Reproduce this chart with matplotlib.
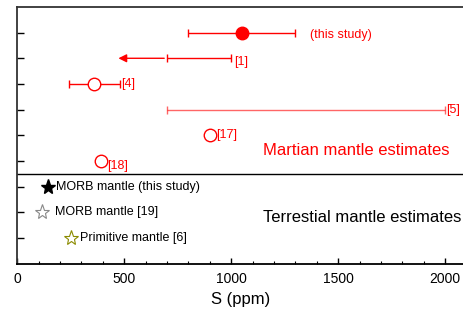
import matplotlib.pyplot as plt
import numpy as np

plt.rcParams["font.family"] = ["Liberation Sans", "DejaVu Sans"]

# Martian mantle estimates (red)
mars_labels = ["(this study)", "[1]", "[4]", "[5]", "[17]", "[18]"]
mars_y = [9, 8, 7, 6, 5, 4]
mars_s = [1050, None, 360, None, 900, 390]
mars_lo = [800, 700, 240, 700, None, None]
mars_hi = [1300, 1000, 480, 2000, None, None]
arrow_tip_1 = 460  # [1] is an upper bound, arrow pointing to lower values

# Terrestrial mantle estimates (stars)
earth_labels = ["MORB mantle (this study)", "MORB mantle [19]", "Primitive mantle [6]"]
earth_y = [3, 2, 1]
earth_s = [145, 115, 250]

RED = "#ff0000"
FS = 9

fig = plt.figure(figsize=(4.64, 3.13), dpi=100)
ax = fig.add_axes([0.037, 0.157, 0.963, 0.821])

# this study
ax.errorbar(mars_s[0], mars_y[0], xerr=[[mars_s[0] - mars_lo[0]], [mars_hi[0] - mars_s[0]]],
            fmt="o", color=RED, ms=9, elinewidth=1, capsize=3, capthick=1)
ax.text(1370, mars_y[0] - 0.1, mars_labels[0], color=RED, fontsize=FS, va="center")

# [1] range with arrow to lower values
ax.errorbar((mars_lo[1] + mars_hi[1]) / 2, mars_y[1],
            xerr=(mars_hi[1] - mars_lo[1]) / 2, fmt="none", ecolor=RED,
            elinewidth=1, capsize=3, capthick=1)
ax.annotate("", xy=(arrow_tip_1, mars_y[1]), xytext=(mars_lo[1], mars_y[1]),
            arrowprops=dict(arrowstyle="-|>", color=RED, lw=1, mutation_scale=12))
ax.text(mars_hi[1] + 15, mars_y[1] - 0.15, mars_labels[1], color=RED, fontsize=FS, va="center")

# [4]
ax.errorbar(mars_s[2], mars_y[2], xerr=[[mars_s[2] - mars_lo[2]], [mars_hi[2] - mars_s[2]]],
            fmt="o", mfc="white", mec=RED, color=RED, ms=9, mew=1,
            elinewidth=1, capsize=3, capthick=1)
ax.text(mars_hi[2] + 5, mars_y[2], mars_labels[2], color=RED, fontsize=FS, va="center")

# [5] range
ax.errorbar((mars_lo[3] + mars_hi[3]) / 2, mars_y[3],
            xerr=(mars_hi[3] - mars_lo[3]) / 2, fmt="none", ecolor=RED, alpha=0.6,
            elinewidth=1, capsize=3, capthick=1)
ax.text(mars_hi[3] + 5, mars_y[3], mars_labels[3], color=RED, fontsize=FS, va="center")

# [17], [18]
for i in (4, 5):
    ax.plot(mars_s[i], mars_y[i], "o", mfc="white", mec=RED, ms=9, mew=1)
ax.text(mars_s[4] + 30, mars_y[4], mars_labels[4], color=RED, fontsize=FS, va="center")
ax.text(mars_s[5] + 30, mars_y[5] - 0.2, mars_labels[5], color=RED, fontsize=FS, va="center")

ax.text(1150, 4.4, "Martian mantle estimates", color=RED, fontsize=12, va="center")

# terrestrial stars
ax.plot(earth_s[0], earth_y[0], "*", color="black", ms=11)
ax.plot(earth_s[1], earth_y[1], "*", mfc="white", mec="#888888", ms=11, mew=0.8)
ax.plot(earth_s[2], earth_y[2], "*", mfc="white", mec="#8b8b00", ms=11, mew=0.8)
ax.text(earth_s[0] + 35, earth_y[0], earth_labels[0], fontsize=FS, va="center")
ax.text(earth_s[1] + 60, earth_y[1], earth_labels[1], fontsize=FS, va="center")
ax.text(earth_s[2] + 45, earth_y[2], earth_labels[2], fontsize=FS, va="center")
ax.text(1150, 1.8, "Terrestial mantle estimates", fontsize=12, va="center")

ax.axhline(3.5, color="black", lw=1)

ax.set_xlim(0, 2088)
ax.set_ylim(0, 10)
ax.set_xticks(np.arange(0, 2001, 500))
ax.set_xticks(np.arange(0, 2001, 100), minor=True)
ax.set_yticks(np.arange(1, 10))
ax.set_yticklabels([])
ax.tick_params(direction="in", length=4.5, width=1, labelsize=10, pad=6)
ax.tick_params(which="minor", direction="in", length=2.2, width=0.8)
ax.tick_params(axis="y", length=5)
ax.set_xlabel("S (ppm)", fontsize=12, labelpad=4)
for side in ("top", "left", "bottom"):
    ax.spines[side].set_linewidth(1.3)
ax.spines["top"].set_color("#333333")
ax.spines["left"].set_color("#333333")
ax.spines["right"].set_visible(False)

fig.savefig("out.png", dpi=100)
